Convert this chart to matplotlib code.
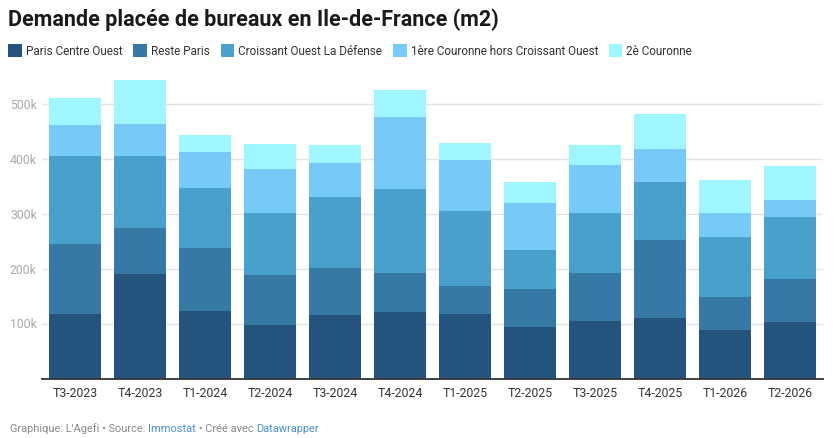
import matplotlib
matplotlib.use("Agg")
import matplotlib.pyplot as plt
import numpy as np
from matplotlib.patches import Rectangle

plt.rcParams['font.family'] = ['Roboto', 'DejaVu Sans']

quarters = ["T3-2023", "T4-2023", "T1-2024", "T2-2024", "T3-2024", "T4-2024",
            "T1-2025", "T2-2025", "T3-2025", "T4-2025", "T1-2026", "T2-2026"]
series_names = ["Paris Centre Ouest", "Reste Paris", "Croissant Ouest La Défense",
                "1ère Couronne hors Croissant Ouest", "2è Couronne"]
paris_centre_ouest = [119, 191, 124, 99, 117, 122, 119, 95, 106, 111, 90, 104]
reste_paris        = [127, 84, 115, 91, 85, 71, 51, 69, 86, 141, 60, 78]
croissant_ouest    = [160, 131, 109, 111, 129, 153, 136, 71, 109, 107, 109, 113]
premiere_couronne  = [56, 58, 65, 81, 62, 130, 93, 85, 89, 60, 42, 31]
deuxieme_couronne  = [49, 80, 31, 46, 33, 50, 31, 39, 36, 62, 60, 62]
yticks = [100000, 200000, 300000, 400000, 500000]
ytick_labels = ["100k", "200k", "300k", "400k", "500k"]

colors = ["#24547E", "#3579A4", "#4AA0CD", "#77C9F8", "#A0F6FE"]
series = [paris_centre_ouest, reste_paris, croissant_ouest, premiere_couronne, deuxieme_couronne]

W, H = 837, 439
fig = plt.figure(figsize=(W / 100, H / 100), dpi=100)
ax = fig.add_axes([42 / W, (H - 380) / H, (823 - 42) / W, 302.5 / H])

x = np.arange(len(quarters))
bottom = np.zeros(len(quarters))
for vals, col in zip(series, colors):
    v = np.array(vals) * 1000.0
    ax.bar(x, v, width=0.8, bottom=bottom, color=col, linewidth=0, zorder=2)
    bottom += v

ax.set_xlim(-0.508, 11.508)
ax.set_ylim(0, 550000)
ax.set_yticks(yticks)
ax.set_yticklabels([])
ax.tick_params(axis='y', length=0)
ax.grid(axis='y', color='#e3e3e3', linewidth=1, zorder=0)
ax.set_xticks(x)
ax.set_xticklabels(quarters, fontsize=8.8, color='#333333')
ax.tick_params(axis='x', length=0, pad=5)
for s in ['top', 'right', 'left']:
    ax.spines[s].set_visible(False)
ax.spines['bottom'].set_color('#333333')
ax.spines['bottom'].set_linewidth(1.3)
ax.spines['bottom'].set_zorder(3)

# y labels at left, centered on gridlines
for yv, lab in zip(yticks, ytick_labels):
    disp = ax.transData.transform((0, yv))[1]
    fig.text(10 / W, disp / H, lab, fontsize=8.8, color='#a8a8a8', ha='left', va='center')

# title
fig.text(8 / W, 1 - 20 / H, "Demande placée de bureaux en Ile-de-France (m2)",
         fontsize=15.5, fontweight='bold', color='#1a1a1a', ha='left', va='center')

renderer = fig.canvas.get_renderer()

# legend
lx = 8.3
ly = 51.7
sq = 13.5
for name, col in zip(series_names, colors):
    fig.patches.append(Rectangle((lx / W, 1 - (ly + sq / 2) / H), sq / W, sq / H,
                                 transform=fig.transFigure, facecolor=col, edgecolor='none'))
    t = fig.text((lx + sq + 4) / W, 1 - ly / H, name, fontsize=8.5, color='#333333',
                 ha='left', va='center')
    bb = t.get_window_extent(renderer)
    lx = bb.x1 + 11

# footer
fx = 10
parts = [("Graphique: L'Agefi • Source: ", '#888888'), ("Immostat", '#4a8fd6'),
         (" • Créé avec ", '#888888'), ("Datawrapper", '#4a8fd6')]
for txt, col in parts:
    t = fig.text(fx / W, 1 - 429 / H, txt, fontsize=7.9, color=col, ha='left', va='center')
    bb = t.get_window_extent(renderer)
    fx = bb.x1

fig.savefig("out.png", dpi=100)
